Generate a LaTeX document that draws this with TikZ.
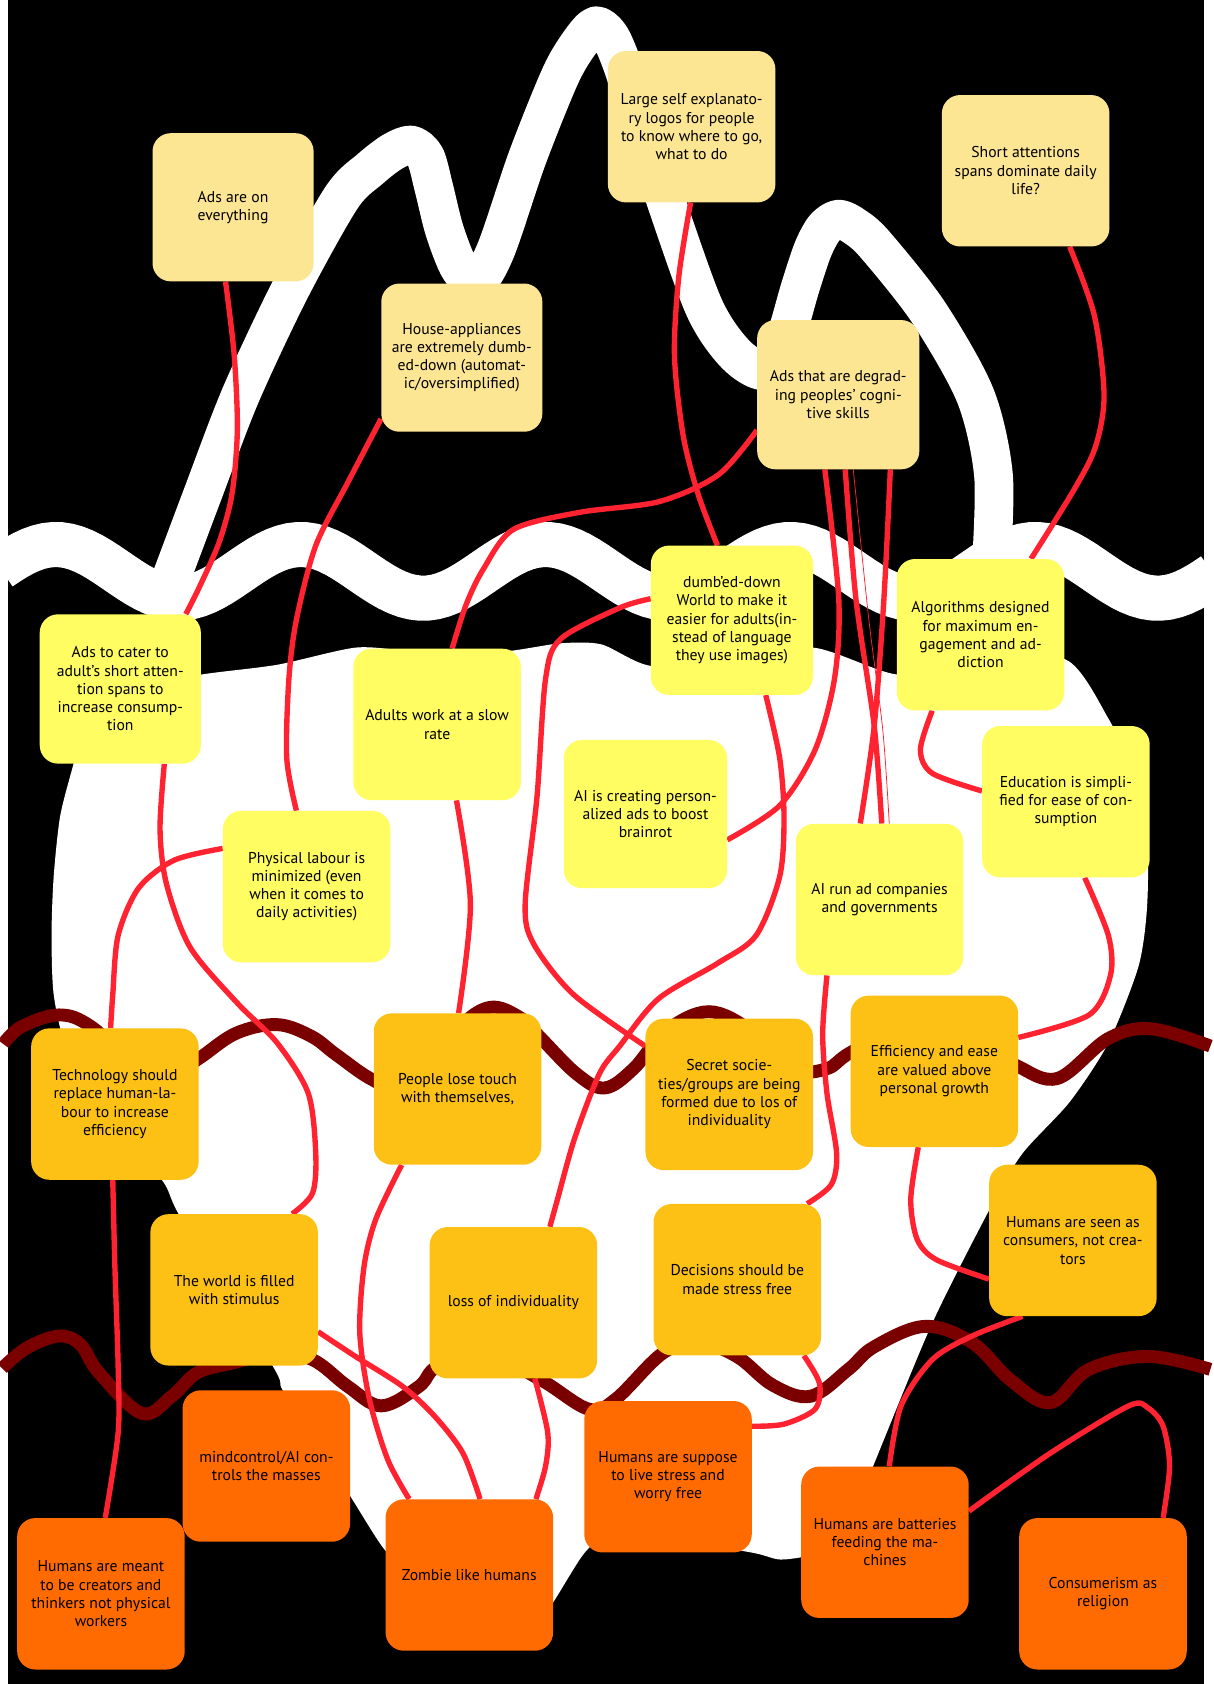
\documentclass[tikz,border=0pt]{standalone}
\usepackage{fontspec}
\setmainfont{PT Sans}
\definecolor{paleY}{HTML}{FDE693}
\definecolor{lemonY}{HTML}{FFFD62}
\definecolor{amberY}{HTML}{FDC014}
\definecolor{tangerine}{HTML}{FF6B00}
\definecolor{wireR}{HTML}{FF2230}
\definecolor{maroonW}{HTML}{7A0000}
\pgfdeclarelayer{backdrop}
\pgfdeclarelayer{wires}
\pgfsetlayers{backdrop,wires,main}
\begin{document}
\begin{tikzpicture}[x=1pt, y=-1pt,
    card/.style={rounded corners=17pt, minimum width=156pt, minimum height=141pt,
      inner sep=2pt, align=center, font=\fontsize{14.6}{17}\selectfont},
    pale/.style={card, fill=paleY},
    lemon/.style={card, fill=lemonY},
    amber/.style={card, fill=amberY},
    tang/.style={card, fill=tangerine},
    wire/.style={draw=wireR, line width=5pt},
    wave/.style={draw=maroonW, line width=12pt}]
  \useasboundingbox (0,0) rectangle (1130,1568);
  % pale cards
  \node[pale, minimum width=150pt, minimum height=138pt] (adsall) at (217,193) {Ads are on\\everything};
  \node[pale, minimum width=150pt, minimum height=138pt] (house) at (430,333) {House-appliances\\are extremely dumb-\\ed-down (automat-\\ic/oversimplified)};
  \node[pale] (logos) at (644,118) {Large self explanato-\\ry logos for people\\to know where to go,\\what to do};
  \node[pale] (shortatt) at (955,159) {Short attentions\\spans dominate daily\\life?};
  \node[pale, minimum width=151pt, minimum height=139pt] (degrade) at (780.5,367.5) {Ads that are degrad-\\ing peoples' cogni-\\tive skills};
  % lemon cards
  \node[lemon, minimum width=150pt, minimum height=139pt] (cater) at (112,641.5) {Ads to cater to\\adult's short atten-\\tion spans to\\increase consump-\\tion};
  \node[lemon, minimum width=151pt, minimum height=139pt] (dumbed) at (681.5,577.5) {dumb'ed-down\\World to make it\\easier for adults(in-\\stead of language\\they use images)};
  \node[lemon] (algo) at (913,591) {Algorithms designed\\for maximum en-\\gagement and ad-\\diction};
  \node[lemon] (adults) at (407,674.5) {Adults work at a slow\\rate};
  \node[lemon, minimum width=152pt, minimum height=138pt] (aicreate) at (601,758) {AI is creating person-\\alized ads to boost\\brainrot};
  \node[lemon] (educ) at (992.5,746.5) {Education is simpli-\\fied for ease of con-\\sumption};
  \node[lemon] (physical) at (285.5,825.5) {Physical labour is\\minimized (even\\when it comes to\\daily activities)};
  \node[lemon] (airun) at (819,837.5) {AI run ad companies\\and governments};
  % amber cards
  \node[amber] (tech) at (107,1028) {Technology should\\replace human-la-\\bour to increase\\efficiency};
  \node[amber] (people) at (426,1014) {People lose touch\\with themselves,};
  \node[amber] (secret) at (679,1019) {Secret socie-\\ties/groups are being\\formed due to los of\\individuality};
  \node[amber] (effic) at (870,997.5) {Efficiency and ease\\are valued above\\personal growth};
  \node[amber] (world) at (218,1201) {The world is filled\\with stimulus};
  \node[amber] (loss) at (478,1213) {loss of individuality};
  \node[amber] (decide) at (686.5,1191.5) {Decisions should be\\made stress free};
  \node[amber] (consumer) at (999,1155) {Humans are seen as\\consumers, not crea-\\tors};
  % orange cards
  \node[tang] (mind) at (248,1365) {mindcontrol/AI con-\\trols the masses};
  \node[tang] (suppose) at (622,1375) {Humans are suppose\\to live stress and\\worry free};
  \node[tang] (battery) at (824,1436) {Humans are batteries\\feeding the ma-\\chines};
  \node[tang] (meant) at (94,1484) {Humans are meant\\to be creators and\\thinkers not physical\\workers};
  \node[tang] (zombie) at (437,1466.5) {Zombie like humans};
  \node[tang] (religion) at (1027,1484) {Consumerism as\\religion};

  \begin{pgfonlayer}{backdrop}
    % ground
    \fill[white] (0,0) rectangle (1130,1568);
    \fill[black] (7.5,0) rectangle (1121,1568);
    % white wave band
    \draw[white, line width=42pt] plot[domain=0:1130, samples=160] (\x,{532-25*cos(1.5789*(\x-52))});
    % flame ribbon
    \draw[white, line width=36pt, line join=round, line cap=round] plot[smooth, tension=0.5] coordinates {
      (155,550) (188,462) (224,368) (270,270) (318,184) (345,157) (366,141) (383,135)
      (396,146) (404,175) (414,215) (428,250) (444,262) (462,232) (491,147) (522,70)
      (541,38) (555,24) (568,34) (580,62) (595,110) (621,190) (656,287) (685,330)
      (712,345) (730,318) (745,268) (757,232) (768,212) (781,204) (796,211)
      (815,228) (864,290) (908,368) (925,442) (923,525)};
    % heart
    \fill[white] plot[smooth cycle, tension=0.45] coordinates {
      (68,713) (80,670) (115,642) (188,628) (258,619) (331,603) (380,606) (430,607)
      (475,606) (522,599) (560,600) (606,620) (680,615) (757,603) (835,628) (910,620)
      (992,614) (1032,669) (1055,720) (1068,780) (1068,845) (1060,900) (1032,971)
      (996,1026) (952,1074) (923,1123) (868,1232) (813,1365) (790,1420) (765,1445)
      (746,1450) (725,1452) (702,1446) (640,1436) (570,1430) (545,1445) (515,1492)
      (495,1518) (440,1495) (385,1462) (359,1444) (328,1396) (295,1343) (263,1294)
      (254,1272) (169,1135) (151,1099) (100,1040) (62,975) (50,926) (48,870)
      (50,816) (56,760)};
  \end{pgfonlayer}

  \begin{pgfonlayer}{wires}
    % maroon waves
    \draw[wave] plot[smooth, tension=0.6] coordinates {
      (3,972) (20,956) (55,945) (85,956) (130,995) (165,997) (186,985) (220,962)
      (258,954) (290,965) (313,982) (348,1006) (385,1018) (425,960) (456,938)
      (485,948) (504,967) (537,1000) (563,1013) (590,995) (620,960) (660,942)
      (700,960) (740,995) (770,995) (792,980) (850,950) (920,975) (948,993)
      (985,1004) (1032,967) (1072,958) (1127,974)};
    \draw[wave] plot[smooth, tension=0.6] coordinates {
      (2,1274) (25,1255) (55,1244) (75,1252) (92,1278) (132,1316) (160,1300)
      (184,1278) (217,1269) (255,1260) (291,1266) (324,1291) (355,1309) (390,1291)
      (408,1272) (455,1262) (504,1285) (548,1312) (573,1303) (617,1260) (650,1250)
      (686,1263) (720,1290) (755,1300) (790,1275) (814,1254) (861,1235) (905,1250)
      (941,1285) (978,1306) (1014,1275) (1069,1263) (1127,1275)};
    % red wires
    \draw[wire] plot[smooth] coordinates {([xshift=-7pt]adsall.south) (218,330) (221,400) (216,460) (204,505) (185,548) ([xshift=61pt]cater.north)};
    \draw[wire] plot[smooth] coordinates {([yshift=-57pt]house.west) (324,449) (294,508) (276,577) (269,632) (267,706) ([xshift=-9.5pt]physical.north)};
    \draw[wire] plot[smooth] coordinates {([yshift=-33pt]degrade.west) (669,442) (614,467) (540,477) (478,493) (450,530) (434,563) ([xshift=14pt]adults.north)};
    \draw[wire] plot[smooth] coordinates {([xshift=-1pt]logos.south) (632,258) (628,331) (636,405) (650,460) ([xshift=-13.5pt]dumbed.north)};
    \draw[wire] plot[smooth] coordinates {([xshift=41pt]shortatt.south) (1019,294) (1028,368) (1020,416) (1000,456) ([xshift=47pt]algo.north)};
    \draw[wire] plot[smooth] coordinates {([xshift=-12.5pt]degrade.south) (781,558) (777,632) (759,698) (726,750) ([yshift=-24pt]aicreate.east)};
    \draw[wire] plot[smooth] coordinates {([xshift=6.5pt]degrade.south) (797,558) (814,676) ([xshift=2pt]airun.north)};
    \draw[wire] plot[smooth] coordinates {([xshift=48.5pt]degrade.south) (823,558) (814,676) ([xshift=-18pt]airun.north)};
    \draw[wire, line width=0.7pt] plot[smooth] coordinates {([xshift=14pt]degrade.south) (809,577) (822,680) ([xshift=9pt]airun.north)};
    \draw[wire] plot[smooth] coordinates {([yshift=20pt]dumbed.west) (577,566) (522,595) (508,632) (500,742) (489,842) (497,879) (534,926) ([yshift=45pt]secret.west)};
    \draw[wire] plot[smooth] coordinates {([xshift=31.5pt]dumbed.south) (726,706) (730,761) (726,816) (704,871) (668,897) (613,930) (577,974) (558,1000) (535,1060) (519,1117) ([xshift=34pt]loss.north)};
    \draw[wire] plot[smooth] coordinates {([xshift=-45pt]algo.south) (857,698) (868,720) ([yshift=10pt]educ.west)};
    \draw[wire] plot[smooth] coordinates {([xshift=17.5pt]educ.south) (1032,871) (1034,908) (1014,945) ([yshift=31.5pt]effic.east)};
    \draw[wire] plot[smooth] coordinates {([xshift=-49pt]airun.south) (766,963) (770,1018) (779,1074) (774,1103) ([xshift=65pt]decide.north)};
    \draw[wire] plot[smooth] coordinates {([xshift=-15pt]effic.south) (848,1117) (854,1154) (872,1173) ([yshift=-36pt]consumer.west)};
    \draw[wire] plot[smooth] coordinates {([xshift=18pt]adults.south) (438,842) ([xshift=1pt]people.north)};
    \draw[wire] plot[smooth] coordinates {([xshift=41pt]cater.south) (149,772) (155,823) (177,882) (221,934) (258,971) (287,1018) (294,1074) (291,1111) ([xshift=54pt]world.north)};
    \draw[wire] plot[smooth] coordinates {([yshift=35.5pt]physical.west) (162,801) (129,827) (110,871) (105,926) ([xshift=-4pt]tech.north)};
    \draw[wire] plot[smooth] coordinates {([xshift=-2pt]tech.south) (107,1180) (110,1272) (110,1334) ([xshift=4pt]meant.north)};
    \draw[wire] plot[smooth] coordinates {([xshift=-52pt]people.south) (350,1135) (339,1179) (335,1241) (344,1303) (361,1359) ([xshift=-56pt]zombie.north)};
    \draw[wire] plot[smooth] coordinates {([yshift=-39pt]world.east) (331,1263) (375,1291) (405,1319) (431,1353) ([xshift=10pt]zombie.north)};
    \draw[wire] plot[smooth] coordinates {([xshift=20pt]loss.south) (510,1334) (508,1365) ([xshift=62pt]zombie.north)};
    \draw[wire] plot[smooth] coordinates {([xshift=62pt]decide.south) (763,1288) (759,1312) (730,1326) ([yshift=47pt]suppose.east)};
    \draw[wire] plot[smooth] coordinates {([xshift=-47pt]consumer.south) (905,1244) (868,1266) (839,1309) ([xshift=4pt]battery.north)};
    \draw[wire] plot[smooth] coordinates {([yshift=29pt]battery.east) (978,1353) (1051,1309) (1069,1311) (1083,1328) (1089,1365) ([xshift=56pt]religion.north)};
  \end{pgfonlayer}
\end{tikzpicture}
\end{document}
